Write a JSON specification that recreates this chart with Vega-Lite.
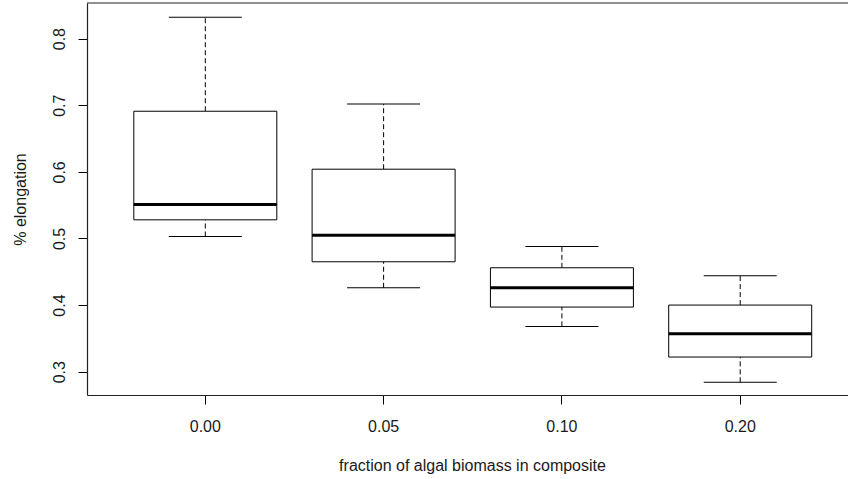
{
  "$schema": "https://vega.github.io/schema/vega-lite/v6.json",
  "width": 761,
  "height": 392,
  "autosize": {"type": "none"},
  "padding": {"left": 87, "top": 3, "right": 0, "bottom": 84},
  "background": "white",
  "config": {
    "view": {"stroke": null},
    "font": "Liberation Sans",
    "axis": {"labelFont": "Liberation Sans", "titleFont": "Liberation Sans", "labelColor": "#1a1a1a", "titleColor": "#1a1a1a", "titleFontWeight": "normal", "labelFontSize": 16, "titleFontSize": 16, "tickColor": "black", "tickSize": 9, "domain": true, "domainColor": "#222", "domainWidth": 1.2, "grid": false}
  },
  "data": {
    "values": [
      {"fraction": "0.00", "min": 0.503, "q1": 0.528, "median": 0.551, "q3": 0.691, "max": 0.832},
      {"fraction": "0.05", "min": 0.426, "q1": 0.465, "median": 0.505, "q3": 0.604, "max": 0.702},
      {"fraction": "0.10", "min": 0.368, "q1": 0.397, "median": 0.426, "q3": 0.456, "max": 0.488},
      {"fraction": "0.20", "min": 0.284, "q1": 0.322, "median": 0.357, "q3": 0.400, "max": 0.444}
    ]
  },
  "layer": [
    {
      "mark": {"type": "rule", "strokeDash": [5, 3], "color": "black", "strokeWidth": 1},
      "encoding": {
        "x": {
          "field": "fraction", "type": "nominal", "sort": null,
          "scale": {"type": "band", "paddingInner": 0, "paddingOuter": 0.134, "align": 0.61},
          "axis": {"title": "fraction of algal biomass in composite", "labelAngle": 0, "labelPadding": 14, "titlePadding": 23, "titleX": 385, "titleAlign": "center"}
        },
        "y": {"field": "min", "type": "quantitative", "scale": {"domain": [0.265, 0.8535], "nice": false, "zero": false},
          "axis": {"title": "% elongation", "values": [0.3, 0.4, 0.5, 0.6, 0.7, 0.8], "format": ".1f", "labelAngle": -90, "labelPadding": 11, "titlePadding": 23}},
        "y2": {"field": "q1"}
      }
    },
    {
      "mark": {"type": "rule", "strokeDash": [5, 3], "color": "black", "strokeWidth": 1},
      "encoding": {"x": {"field": "fraction", "type": "nominal", "sort": null}, "y": {"field": "q3", "type": "quantitative"}, "y2": {"field": "max"}}
    },
    {
      "mark": {"type": "tick", "size": 73, "thickness": 1, "color": "black", "opacity": 1},
      "encoding": {"x": {"field": "fraction", "type": "nominal", "sort": null}, "y": {"field": "min", "type": "quantitative"}}
    },
    {
      "mark": {"type": "tick", "size": 73, "thickness": 1, "color": "black", "opacity": 1},
      "encoding": {"x": {"field": "fraction", "type": "nominal", "sort": null}, "y": {"field": "max", "type": "quantitative"}}
    },
    {
      "mark": {"type": "bar", "size": 143, "fill": "white", "stroke": "black", "strokeWidth": 1},
      "encoding": {"x": {"field": "fraction", "type": "nominal", "sort": null}, "y": {"field": "q1", "type": "quantitative"}, "y2": {"field": "q3"}}
    },
    {
      "mark": {"type": "tick", "size": 143, "thickness": 3, "color": "black", "opacity": 1},
      "encoding": {"x": {"field": "fraction", "type": "nominal", "sort": null}, "y": {"field": "median", "type": "quantitative"}}
    },
    {
      "data": {"values": [{}]},
      "mark": {"type": "rule", "color": "#222", "strokeWidth": 1.2},
      "encoding": {"y": {"datum": 0.8535, "type": "quantitative"}}
    }
  ]
}
